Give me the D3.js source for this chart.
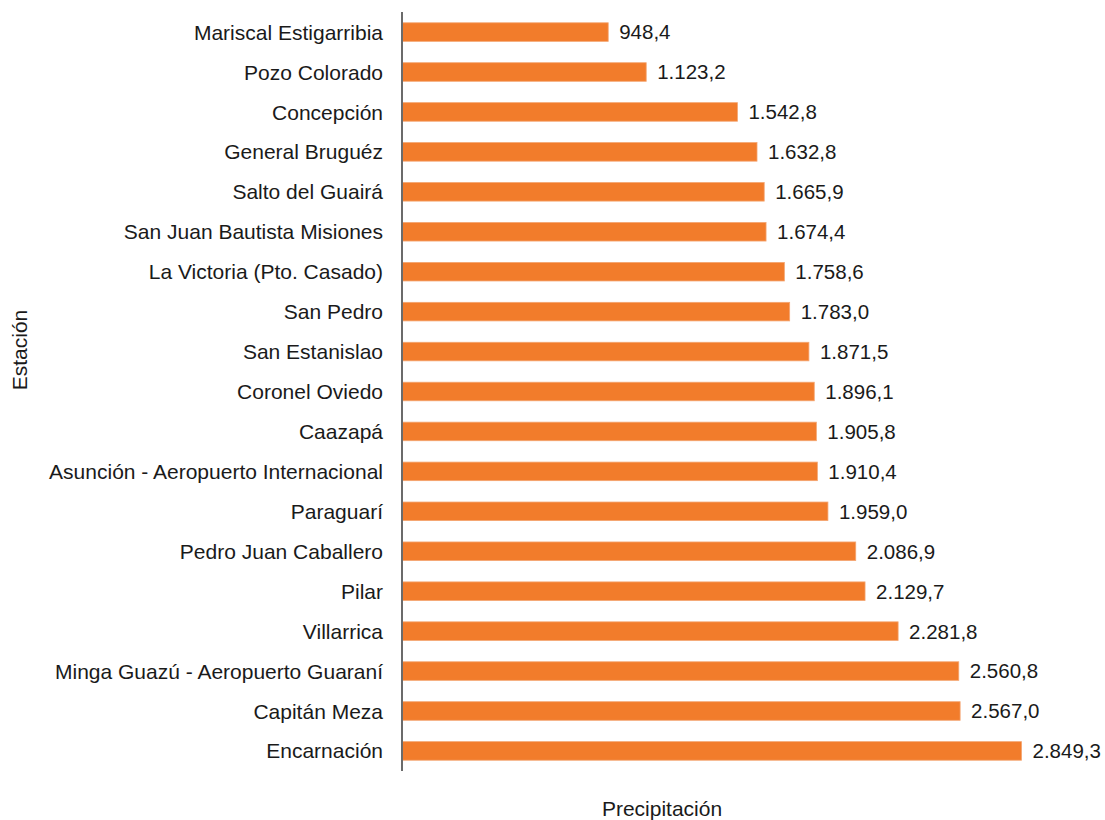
<!DOCTYPE html>
<html>
<head>
<meta charset="utf-8">
<script src="https://cdn.jsdelivr.net/npm/d3@7"></script>
<style>
  body { margin: 0; background: #fff; }
  svg text { font-family: "Liberation Sans", Arial, sans-serif; fill: #1a1a1a; }
</style>
</head>
<body>
<div id="chart"></div>
<script>
const stations = [
  'Mariscal Estigarribia', 'Pozo Colorado', 'Concepción', 'General Bruguéz',
  'Salto del Guairá', 'San Juan Bautista Misiones', 'La Victoria (Pto. Casado)',
  'San Pedro', 'San Estanislao', 'Coronel Oviedo', 'Caazapá',
  'Asunción - Aeropuerto Internacional', 'Paraguarí ', 'Pedro Juan Caballero',
  'Pilar', 'Villarrica', 'Minga Guazú - Aeropuerto Guaraní', 'Capitán Meza', 'Encarnación'
];
const precipitation = [
  948.4, 1123.2, 1542.8, 1632.8, 1665.9, 1674.4, 1758.6, 1783.0, 1871.5, 1896.1,
  1905.8, 1910.4, 1959.0, 2086.9, 2129.7, 2281.8, 2560.8, 2567.0, 2849.3
];
const xTitle = 'Precipitación';
const yTitle = 'Estación';

const width = 1105, height = 820;
const rows = stations.map((name, i) => ({ name, value: precipitation[i] }));
const locale = d3.formatLocale({ decimal: ',', thousands: '.', grouping: [3], currency: ['', ''] });
const fmt = locale.format(',.1f');

const svg = d3.select('#chart').append('svg').attr('width', width).attr('height', height);

const x = d3.scaleLinear().domain([0, d3.max(precipitation)]).range([402, 1021.5]);
const y = d3.scaleBand().domain(stations).range([12, 771]).paddingInner(0.535).paddingOuter(0.27);

svg.selectAll('.bar').data(rows).enter().append('rect')
  .attr('class', 'bar')
  .attr('x', x(0))
  .attr('y', (d) => y(d.name))
  .attr('width', (d) => x(d.value) - x(0))
  .attr('height', y.bandwidth())
  .attr('fill', '#f27c2b')
  .attr('stroke', '#f4a571')
  .attr('stroke-width', 0.8);

svg.selectAll('.value').data(rows).enter().append('text')
  .attr('class', 'value')
  .attr('x', (d) => x(d.value) + 11)
  .attr('y', (d) => y(d.name) + y.bandwidth() / 2)
  .attr('dy', '.36em')
  .style('font-size', '20.5px')
  .text((d) => fmt(d.value));

svg.selectAll('.label').data(rows).enter().append('text')
  .attr('class', 'label')
  .attr('x', 383)
  .attr('y', (d) => y(d.name) + y.bandwidth() / 2)
  .attr('dy', '.36em')
  .attr('text-anchor', 'end')
  .style('font-size', '21px')
  .text((d) => d.name);

// eje vertical
svg.append('line')
  .attr('x1', x(0)).attr('x2', x(0))
  .attr('y1', 12).attr('y2', 771)
  .attr('stroke', '#6b6b6b').attr('stroke-width', 2);

svg.append('text')
  .attr('x', 662).attr('y', 816)
  .attr('text-anchor', 'middle')
  .style('font-size', '21px')
  .text(xTitle);

svg.append('text')
  .attr('transform', 'translate(27,350) rotate(-90)')
  .attr('text-anchor', 'middle')
  .style('font-size', '21px')
  .text(yTitle);
</script>
</body>
</html>
